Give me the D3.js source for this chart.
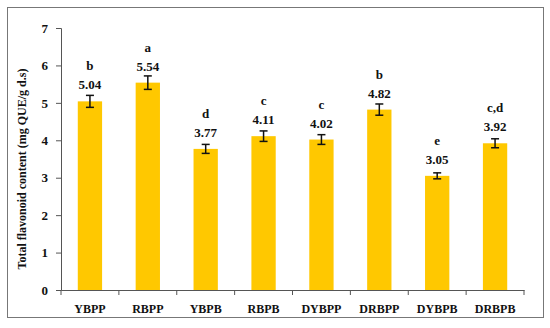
<!DOCTYPE html>
<html><head><meta charset="utf-8">
<script src="https://cdn.jsdelivr.net/npm/d3@7"></script>
<style>body{margin:0;background:#fff}svg{display:block}text{font-family:"Liberation Serif","Times New Roman",serif;font-weight:bold;fill:#111}</style>
</head><body><svg id="c" width="550" height="328"></svg>
<script>
const categories = ["YBPP","RBPP","YBPB","RBPB","DYBPP","DRBPP","DYBPB","DRBPB"];
const values = [5.04,5.54,3.77,4.11,4.02,4.82,3.05,3.92];
const errors = [0.16,0.18,0.12,0.14,0.13,0.15,0.08,0.12];
const letters = ["b","a","d","c","c","b","e","c,d"];
const yTicks = [0,1,2,3,4,5,6,7];

const svg = d3.select("#c");
svg.append("rect").attr("x",7.5).attr("y",7.5).attr("width",536).attr("height",310)
  .attr("fill","none").attr("stroke","#777").attr("stroke-width",1);

const m = {l:61, r:524, t:28, b:290};
const x = d3.scaleBand().domain(categories).range([m.l,m.r]).paddingInner(0.58).paddingOuter(0.29);
const xb = d3.scaleBand().domain(categories).range([m.l,m.r]);
const y = d3.scaleLinear().domain([0,7]).range([m.b,m.t]);

const g = svg.append("g");
g.selectAll("rect.bar").data(values).join("rect").attr("class","bar")
  .attr("x",(d,i)=>x(categories[i])).attr("width",x.bandwidth())
  .attr("y",d=>y(d)).attr("height",d=>y(0)-y(d)).attr("fill","#FFC800");

// error bars
const eb = g.selectAll("g.err").data(values).join("g").attr("class","err");
eb.append("line").attr("x1",(d,i)=>x(categories[i])+x.bandwidth()/2).attr("x2",(d,i)=>x(categories[i])+x.bandwidth()/2)
  .attr("y1",(d,i)=>y(d+errors[i])).attr("y2",(d,i)=>y(d-errors[i])).attr("stroke","#111").attr("stroke-width",1.5);
[1,-1].forEach(s=>{
  eb.append("line").attr("x1",(d,i)=>x(categories[i])+x.bandwidth()/2-4).attr("x2",(d,i)=>x(categories[i])+x.bandwidth()/2+4)
    .attr("y1",(d,i)=>y(d+s*errors[i])).attr("y2",(d,i)=>y(d+s*errors[i])).attr("stroke","#111").attr("stroke-width",1.5);
});

// value labels
g.selectAll("text.val").data(values).join("text").attr("class","val")
  .attr("x",(d,i)=>x(categories[i])+x.bandwidth()/2).attr("y",d=>y(d)-12)
  .attr("text-anchor","middle").attr("font-size",13).text(d=>d.toFixed(2));
g.selectAll("text.let").data(letters).join("text").attr("class","let")
  .attr("x",(d,i)=>x(categories[i])+x.bandwidth()/2).attr("y",(d,i)=>y(values[i])-31)
  .attr("text-anchor","middle").attr("font-size",13).text(d=>d);

// y axis
const ya = svg.append("g").attr("transform",`translate(${m.l},0)`)
  .call(d3.axisLeft(y).tickValues(yTicks).tickSize(5).tickPadding(8).tickFormat(d3.format("d")));
ya.select(".domain").attr("stroke","#555");
ya.selectAll(".tick line").attr("stroke","#555");
ya.selectAll("text").attr("font-size",13).style("font-family","'Liberation Serif',serif").style("font-weight","bold");

// x axis
const xa = svg.append("g").attr("transform",`translate(0,${m.b})`)
  .call(d3.axisBottom(xb).tickSize(0).tickPadding(14));
xa.select(".domain").attr("stroke","#555");
xa.selectAll("text").attr("font-size",12).style("font-family","'Liberation Serif',serif").style("font-weight","bold");
xa.selectAll("line.bnd").data(categories.concat(["end"])).join("line").attr("class","bnd")
  .attr("x1",(d,i)=>i<categories.length?xb(d):m.r).attr("x2",(d,i)=>i<categories.length?xb(d):m.r)
  .attr("y1",0).attr("y2",5).attr("stroke","#555");

svg.append("text").attr("transform",`translate(26,${(m.t+m.b)/2+10}) rotate(-90)`)
  .attr("text-anchor","middle").attr("font-size",12).text("Total flavonoid content (mg QUE/g d.s)");
</script></body></html>
